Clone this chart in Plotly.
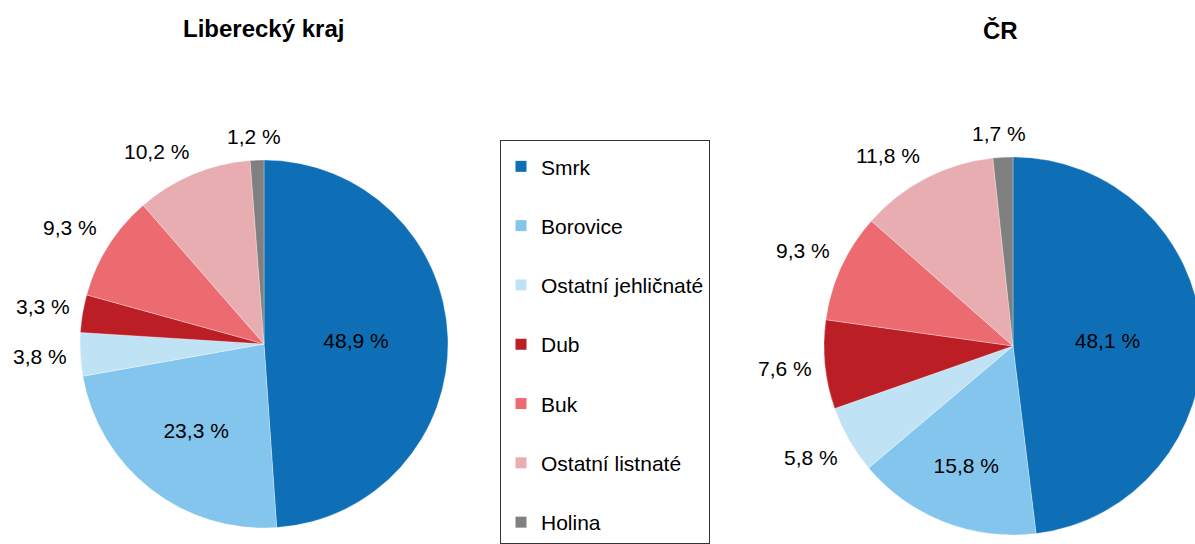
import math
import plotly.graph_objects as go

W, H = 1212, 560
OFF = 0

categories = ["Smrk", "Borovice", "Ostatní jehličnaté", "Dub", "Buk", "Ostatní listnaté", "Holina"]
liberecky = [48.9, 23.3, 3.8, 3.3, 9.3, 10.2, 1.2]
cr = [48.1, 15.8, 5.8, 7.6, 9.3, 11.8, 1.7]
colors = ["#0e6fb7", "#83c5ec", "#bfe3f5", "#bb1f25", "#eb6b70", "#e8adb1", "#808080"]
titles = ["Liberecký kraj", "ČR"]

FONT = "Liberation Sans, Arial, Helvetica, sans-serif"
FS = 21


def px(x):
    return (x - OFF) / W


def py(y):
    return 1 - (y - OFF) / H


def label_text(v):
    return f"{v:.1f}".replace(".", ",") + " %"


CW = {",": 0.278, " ": 0.278, "%": 0.889}


def text_w(t):
    return sum(CW.get(c, 0.556) for c in t) * FS


def clamp(v):
    return max(-1.0, min(1.0, v))


# pie geometry in window pixels: (cx, cy, r)
pies = [
    (liberecky, 264, 344, 184),
    (cr, 1013, 346, 189),
]

fig = go.Figure()
GAP = 13
TH = 22

for vals, cx, cy, r in pies:
    inside = [v > 12 for v in vals]
    fig.add_trace(go.Pie(
        labels=categories, values=vals, sort=False, direction="clockwise", rotation=0,
        marker=dict(colors=colors, line=dict(color="white", width=0.3)),
        texttemplate=["%{value:.1f} %" if i else "" for i in inside],
        textposition="inside",
        textfont=dict(size=FS, color="black", family=FONT),
        insidetextorientation="horizontal",
        domain=dict(x=[px(cx - r), px(cx + r)], y=[py(cy + r), py(cy - r)]),
        showlegend=False, hoverinfo="label+value",
    ))
    total = sum(vals)
    cum = 0.0
    for v, ins in zip(vals, inside):
        mid = (cum + v / 2) / total * 2 * math.pi
        cum += v
        if ins:
            continue
        t = label_text(v)
        ux, uy = math.sin(mid), -math.cos(mid)
        d = r + GAP
        lx = cx + ux * d + clamp(2.5 * ux) * text_w(t) / 2
        ly = cy + uy * d + clamp(2.5 * uy) * TH / 2
        fig.add_annotation(text=t, x=px(lx), y=py(ly), xref="paper", yref="paper",
                           showarrow=False, xanchor="center", yanchor="middle",
                           font=dict(size=FS, color="black", family=FONT))

# legend entries
for name, c in zip(categories, colors):
    fig.add_trace(go.Scatter(
        x=[None], y=[None], mode="markers", name=name, legendgroup=name,
        marker=dict(symbol="square", size=11, color=c), showlegend=True,
    ))

fig.add_annotation(text="<b>" + titles[0] + "</b>", x=px(263), y=py(28), xref="paper", yref="paper",
                   showarrow=False, font=dict(size=24, color="black", family=FONT), xanchor="center", yanchor="middle")
fig.add_annotation(text="<b>" + titles[1] + "</b>", x=px(1000), y=py(30), xref="paper", yref="paper",
                   showarrow=False, font=dict(size=24, color="black", family=FONT), xanchor="center", yanchor="middle")

fig.update_layout(
    width=W, height=H,
    margin=dict(l=0, r=0, t=0, b=0, autoexpand=False),
    paper_bgcolor="white", plot_bgcolor="white",
    separators=", ",
    font=dict(family=FONT, size=FS, color="black"),
    xaxis=dict(visible=False), yaxis=dict(visible=False),
    legend=dict(
        x=px(500), y=py(140), xanchor="left", yanchor="top",
        bordercolor="#333333", borderwidth=1, bgcolor="white",
        font=dict(size=FS, color="black", family=FONT),
        title=dict(text=" ", font=dict(size=4)),
        tracegroupgap=29, itemwidth=30,
    ),
    showlegend=True,
)

fig.write_html(
    "out.html",
    config={"displayModeBar": False},
    post_script="document.documentElement.style.overflow='hidden';"
                "document.body.style.overflow='hidden';document.body.style.margin='0';",
)
